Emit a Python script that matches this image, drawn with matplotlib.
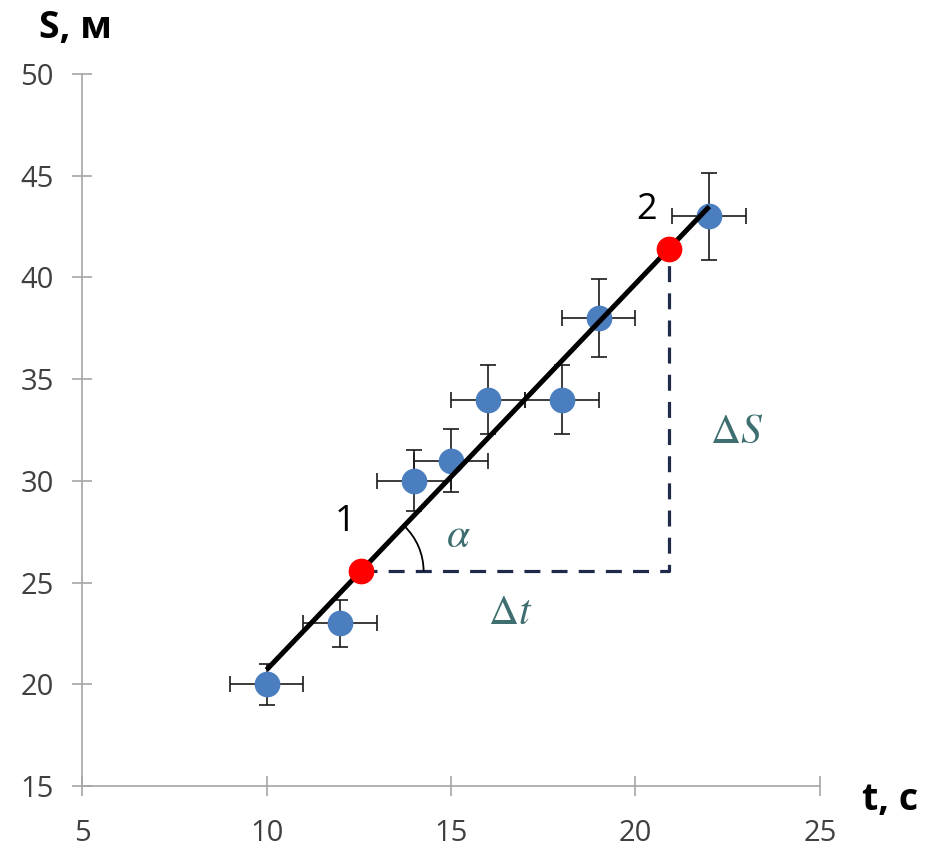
import numpy as np
import matplotlib
matplotlib.use("Agg")
import matplotlib.pyplot as plt
from matplotlib.patches import Arc
from matplotlib.transforms import ScaledTranslation

# measured points
t = [10, 12, 14, 15, 16, 18, 19, 22]
s = [20, 23, 30, 31, 34, 34, 38, 43]
t_err = [1, 1, 1, 1, 1, 1, 1, 1]
s_err = [1.0, 1.15, 1.5, 1.55, 1.7, 1.7, 1.9, 2.15]

# two points picked on the fitted line
sel_t = [12.55, 20.9]
sel_s = [25.55, 41.4]
sel_names = ["1", "2"]

plt.rcParams['font.family'] = ['Open Sans', 'DejaVu Sans']
plt.rcParams['mathtext.fontset'] = 'stix'

fig = plt.figure(figsize=(9.28, 8.48), dpi=100)
ax = fig.add_axes([0.0884, 0.0731, 0.7952, 0.8396])

# linear fit through the data
k, b = np.polyfit(t, s, 1)
t_fit = np.array([min(t), max(t)])
ax.plot(t_fit, k * t_fit + b, color='black', lw=3.6, zorder=3, solid_capstyle='butt')

ax.errorbar(t, s, xerr=t_err, yerr=s_err, fmt='o', color='#4a7ebf', ms=17.5,
            ecolor='#1a1a1a', elinewidth=1.2, capsize=6, capthick=1.2, zorder=2)

# delta triangle
navy = '#1f2a4a'
ax.plot([sel_t[0], sel_t[1], sel_t[1]], [sel_s[0], sel_s[0], sel_s[1]],
        color=navy, lw=2.3, ls=(0, (5, 3.5)), zorder=1)

ax.plot(sel_t, sel_s, 'o', color='#ff0000', ms=17.5, zorder=4)
ax.text(12.13, 28.0, sel_names[0], fontsize=26, ha='center', va='center')
ax.text(20.31, 43.3, sel_names[1], fontsize=26, ha='center', va='center')

# angle arc
ax.set_xlim(5, 25)
ax.set_ylim(15, 50)
p0 = ax.transData.transform((sel_t[0], sel_s[0]))
p1 = ax.transData.transform((sel_t[1], sel_s[1]))
ang = np.degrees(np.arctan2(p1[1] - p0[1], p1[0] - p0[0]))
tr = fig.dpi_scale_trans + ScaledTranslation(sel_t[0], sel_s[0], ax.transData)
ax.add_patch(Arc((0, 0), 1.26, 1.26, theta1=0, theta2=ang, transform=tr,
                 color='black', lw=1.3, zorder=3))

teal = '#3e6e70'
ax.text(15.19, 27.3, r'$\alpha$', fontsize=30, color=teal, ha='center', va='center')
ax.text(16.6, 23.5, r'$\Delta t$', fontsize=30, color=teal, ha='center', va='center')
ax.text(22.75, 32.4, r'$\Delta S$', fontsize=30, color=teal, ha='center', va='center')

ax.set_xticks([5, 10, 15, 20, 25])
ax.set_yticks([15, 20, 25, 30, 35, 40, 45, 50])
for side in ['top', 'right']:
    ax.spines[side].set_visible(False)
for side in ['left', 'bottom']:
    ax.spines[side].set_color('#a6a6a6')
    ax.spines[side].set_linewidth(1.2)
ax.tick_params(axis='both', direction='inout', length=15, width=1.2,
               color='#a6a6a6', labelsize=21, labelcolor='#404040')
ax.tick_params(axis='y', pad=13)
ax.tick_params(axis='x', pad=16)

fig.text(75 / 928, 1 - 28 / 848, 'S, м', fontsize=27, fontweight='bold',
         ha='center', va='center')
fig.text(890 / 928, 1 - 800 / 848, 't, с', fontsize=27, fontweight='bold',
         ha='center', va='center')

fig.savefig('out.png', dpi=100)
